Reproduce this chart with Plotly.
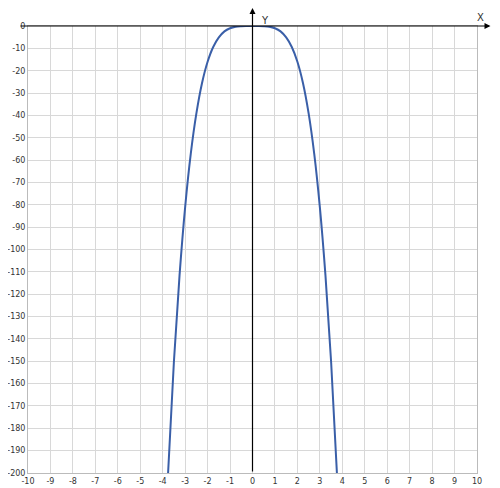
import plotly.graph_objects as go

# points
x_vals = [-3.76, -3.5, -3.25, -3.0, -2.75, -2.5, -2.25, -2.0, -1.75, -1.5, -1.25, -1.0, -0.75, -0.5, -0.25, 0.0,
          0.25, 0.5, 0.75, 1.0, 1.25, 1.5, 1.75, 2.0, 2.25, 2.5, 2.75, 3.0, 3.25, 3.5, 3.76]
y_vals = [-200, -150, -111.6, -81, -57.2, -39.1, -25.6, -16, -9.4, -5.1, -2.4, -1, -0.3, -0.06, 0, 0,
          0, -0.06, -0.3, -1, -2.4, -5.1, -9.4, -16, -25.6, -39.1, -57.2, -81, -111.6, -150, -200]

x_ticks = list(range(-10, 11))
y_ticks = list(range(-200, 1, 10))
x_labels = [str(v) for v in x_ticks]
y_labels = [str(v) for v in y_ticks]

fig = go.Figure()
fig.add_trace(go.Scatter(x=x_vals, y=y_vals, mode='lines', line=dict(color='#3a5fa8', width=2, shape='spline'),
                         hoverinfo='skip'))

# page body adds ~8px offset, so the figure is a bit smaller than the window
axis_font = dict(family='DejaVu Sans', size=8, color='#333')
fig.update_layout(
    width=492, height=480, paper_bgcolor='white', plot_bgcolor='white', showlegend=False,
    margin=dict(l=20, r=23, t=18, b=15),
    xaxis=dict(range=[-10, 10], tickvals=x_ticks, ticktext=x_labels, showgrid=True, gridcolor='#d8d8d8',
               zeroline=False, automargin=False,
               tickfont=axis_font, showline=True, linecolor='#bbb', mirror=True, ticks=''),
    yaxis=dict(range=[-200, 0], tickvals=y_ticks, ticktext=y_labels, showgrid=True, gridcolor='#d8d8d8',
               zeroline=False, automargin=False,
               tickfont=axis_font, showline=True, linecolor='#bbb', mirror=True, ticks=''),
)

# axis arrows through origin
fig.add_annotation(x=1.03, y=1, xref='x domain', yref='y domain', ax=-0.02, ay=1,
                   axref='x domain', ayref='y domain',
                   showarrow=True, arrowhead=2, arrowsize=1, arrowwidth=1.2, arrowcolor='black', text='')
fig.add_annotation(x=0.5, y=1.04, xref='x domain', yref='y domain', ax=0.5, ay=0,
                   axref='x domain', ayref='y domain',
                   showarrow=True, arrowhead=2, arrowsize=1, arrowwidth=1.2, arrowcolor='black', text='')
fig.add_annotation(x=0.55, y=1.03, xref='x', yref='y domain', text='Y', showarrow=False,
                   font=dict(family='DejaVu Sans', size=10, color='#333'))
fig.add_annotation(x=1.02, y=1.035, xref='x domain', yref='y domain', text='X', showarrow=False,
                   font=dict(family='DejaVu Sans', size=10, color='#333'))

fig.write_html("out.html")
